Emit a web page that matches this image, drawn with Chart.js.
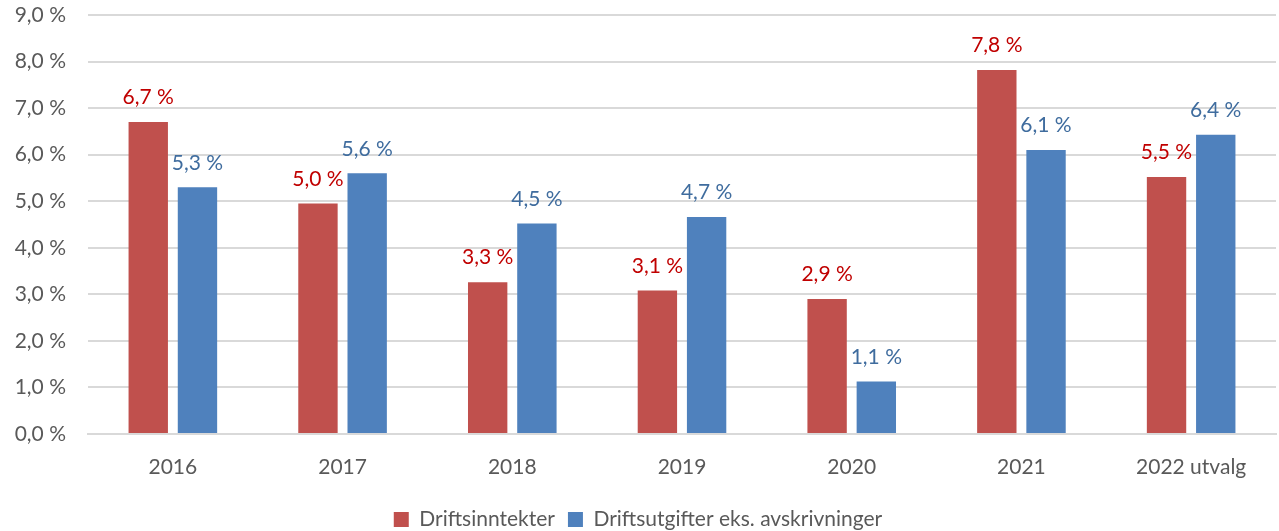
<!DOCTYPE html>
<html>
<head>
<meta charset="utf-8">
<script src="https://cdn.jsdelivr.net/npm/chart.js@4"></script>
<style>
  html, body { margin: 0; padding: 0; background: #fff; }
  #wrap { width: 1279px; height: 531px; }
</style>
</head>
<body>
<div id="wrap"><canvas id="chart"></canvas></div>
<script>
var years = ["2016", "2017", "2018", "2019", "2020", "2021", "2022 utvalg"];
var inntekter = [6.70, 4.95, 3.26, 3.08, 2.90, 7.82, 5.52];
var utgifter = [5.30, 5.60, 4.52, 4.66, 1.13, 6.10, 6.43];
var yTicks = [0, 1, 2, 3, 4, 5, 6, 7, 8, 9];

var fontFam = "Lato, 'Open Sans', sans-serif";

function pct(v) {
    return v.toFixed(1).replace(".", ",") + " %";
}

// simple value labels above the bars
var barLabels = {
    id: "barLabels",
    afterDatasetsDraw: function(chart) {
        var ctx = chart.ctx;
        ctx.save();
        ctx.font = "21px " + fontFam;
        ctx.textAlign = "center";
        ctx.textBaseline = "bottom";
        chart.data.datasets.forEach(function(ds, i) {
            var meta = chart.getDatasetMeta(i);
            ctx.fillStyle = ds.labelColor;
            meta.data.forEach(function(bar, j) {
                ctx.fillText(pct(ds.data[j]), bar.x, bar.y - 14);
            });
        });
        ctx.restore();
    }
};

var ctx = document.getElementById("chart").getContext("2d");
new Chart(ctx, {
    type: "bar",
    data: {
        labels: years,
        datasets: [{
            label: "Driftsinntekter",
            data: inntekter,
            backgroundColor: "#C0504D",
            labelColor: "#C00000",
            categoryPercentage: 0.58,
            barPercentage: 0.8
        }, {
            label: "Driftsutgifter eks. avskrivninger",
            data: utgifter,
            backgroundColor: "#4F81BD",
            labelColor: "#3F6C9E",
            categoryPercentage: 0.58,
            barPercentage: 0.8
        }]
    },
    options: {
        responsive: true,
        maintainAspectRatio: false,
        animation: false,
        layout: { autoPadding: false, padding: { top: 15, right: 3, left: 0, bottom: -9 } },
        plugins: {
            legend: {
                position: "bottom",
                labels: {
                    color: "#595959",
                    font: { family: fontFam, size: 21 },
                    boxWidth: 15,
                    boxHeight: 15,
                    padding: 13
                }
            },
            tooltip: { enabled: false }
        },
        scales: {
            x: {
                afterFit: function(axis) { axis.height = 62; },
                grid: { display: false, drawTicks: false },
                border: { color: "#d9d9d9", width: 2 },
                ticks: {
                    color: "#595959",
                    font: { family: fontFam, size: 21 },
                    padding: 21
                }
            },
            y: {
                min: 0,
                max: 9,
                afterBuildTicks: function(axis) {
                    axis.ticks = yTicks.map(function(v) { return { value: v }; });
                },
                afterFit: function(axis) {
                    axis.width = 88;
                    axis.paddingTop = 0;
                    axis.paddingBottom = 0;
                },
                grid: { color: "#d9d9d9", lineWidth: 2, drawTicks: false },
                border: { display: false },
                ticks: {
                    color: "#595959",
                    font: { family: fontFam, size: 21 },
                    padding: 22,
                    callback: function(v) { return pct(v); }
                }
            }
        }
    },
    plugins: [barLabels]
});
</script>
</body>
</html>
